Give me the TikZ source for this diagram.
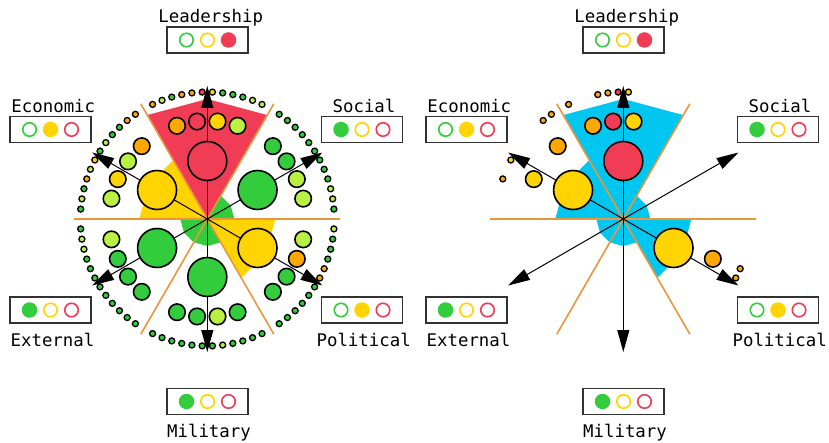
\documentclass[tikz,border=0pt]{standalone}
\usepackage{fontspec}
\setmonofont{DejaVu Sans Mono}
\usetikzlibrary{arrows.meta}
\definecolor{cgreen}{RGB}{51,204,60}
\definecolor{clime}{RGB}{185,240,65}
\definecolor{cyellow}{RGB}{255,212,0}
\definecolor{corange}{RGB}{255,168,0}
\definecolor{cred}{RGB}{240,60,85}
\definecolor{cblue}{RGB}{0,198,240}
\definecolor{cline}{RGB}{235,150,60}
\definecolor{cbox}{RGB}{50,50,50}
\tikzset{
  sep/.style={draw=cline, line width=1.6pt},
  spoke/.style={draw=black, line width=1pt},
  arrowspoke/.style={spoke, -{Triangle[length=22pt,width=12pt]}},
  bigc/.style={circle, draw=black, line width=1.6pt, minimum size=39pt, inner sep=0pt},
  smallc/.style={circle, draw=black, line width=1.6pt, minimum size=16.5pt, inner sep=0pt},
  ringdot/.style={circle, draw=black, line width=1.3pt, minimum size=6pt, inner sep=0pt},
  legbox/.style={draw=cbox, line width=1.5pt, minimum width=81pt, minimum height=26pt, inner sep=0pt},
  legon/.style={circle, minimum size=15.5pt, inner sep=0pt},
  legoff/.style={circle, draw, line width=1.6pt, fill=white, minimum size=13.5pt, inner sep=0pt},
  lbl/.style={font=\ttfamily\fontsize{17.4}{20}\selectfont, anchor=base, inner sep=0pt},
}
\newcommand{\legcirc}[4]{%
  \ifnum#4=1\relax
    \node[legon,fill=#3] (#1) at (#2) {};%
  \else
    \node[legoff,draw=#3] (#1) at (#2) {};%
  \fi}
\newcommand{\mylegend}[6]{%
  \node[legbox] (#1) at (#2,#3) {};%
  \legcirc{#1-g}{[xshift=-21pt]#1.center}{cgreen}{#4}%
  \legcirc{#1-y}{#1.center}{cyellow}{#5}%
  \legcirc{#1-r}{[xshift=21pt]#1.center}{cred}{#6}%
}
\begin{document}
\begin{tikzpicture}[x=1pt,y=1pt]
\useasboundingbox (0,0) rectangle (829,-443);
\fill[white] (0,0) rectangle (829,-443);

% ================= LEFT DIAGRAM =================
\begin{scope}[shift={(207.3,-219)}]
  \coordinate (Lc) at (0,0);
  \foreach \a/\r/\c in {90/120/cred,30/27/cgreen,-30/68/cyellow,270/27/cgreen,210/27/cgreen,150/68/cyellow}
    \fill[\c] (0,0) -- ({\a-30}:\r) -- (\a:\r) -- ({\a+30}:\r) -- cycle;
  \foreach \a in {0,60,120}{
    \coordinate (Ls\a-a) at (\a:133);
    \coordinate (Ls\a-b) at ({\a+180}:133);
    \draw[sep] (Ls\a-a) -- (Ls\a-b);}
  \foreach \a/\n in {90/lead,30/soc,-30/pol,270/mil,210/ext,150/eco}{
    \coordinate (L\n-tip) at (\a:133);
    \draw[arrowspoke] (Lc) -- (L\n-tip);}
  \foreach \a/\n/\kbig/\ka/\kb/\kc/\kd in {
      90/lead/cred/corange/cred/cyellow/clime,
      30/soc/cgreen/cgreen/cgreen/clime/clime,
      -30/pol/cyellow/clime/corange/cgreen/cgreen,
      270/mil/cgreen/cgreen/clime/cgreen/cgreen,
      210/ext/cgreen/cgreen/cgreen/cgreen/clime,
      150/eco/cyellow/clime/cyellow/clime/corange}{
    \node[bigc,fill=\kbig] (L\n-big) at (\a:58) {};
    \node[smallc,fill=\ka] (L\n-s1) at ({\a+18}:98) {};
    \node[smallc,fill=\kb] (L\n-s2) at ({\a+6}:98) {};
    \node[smallc,fill=\kc] (L\n-s3) at ({\a-6}:98) {};
    \node[smallc,fill=\kd] (L\n-s4) at ({\a-18}:98) {};
  }
  \foreach \c [count=\k from 0] in {clime,clime,cgreen,cgreen,cgreen,cyellow,cred,corange,corange,cgreen,clime,corange}
    \node[ringdot,fill=\c] (Llead-d\k) at ({90+(\k-5.5)*4.64}:127) {};
  \foreach \c [count=\k from 0] in {cgreen,clime,clime,cgreen,cgreen,cgreen,cgreen,cgreen,cgreen,cgreen,cgreen,cgreen}
    \node[ringdot,fill=\c] (Lsoc-d\k) at ({30+(\k-5.5)*4.64}:127) {};
  \foreach \c [count=\k from 0] in {cgreen,cgreen,cgreen,cgreen,cgreen,cgreen,corange,corange,cgreen,cgreen,cgreen,clime}
    \node[ringdot,fill=\c] (Lpol-d\k) at ({-30+(\k-5.5)*4.64}:127) {};
  \foreach \c [count=\k from 0] in {cgreen,cgreen,cgreen,cgreen,cgreen,cgreen,cgreen,clime,cgreen,cgreen,cgreen,cgreen}
    \node[ringdot,fill=\c] (Lmil-d\k) at ({270+(\k-5.5)*4.64}:127) {};
  \foreach \c [count=\k from 0] in {cgreen,clime,clime,cgreen,cgreen,cgreen,cgreen,cgreen,cgreen,cgreen,cgreen,cgreen}
    \node[ringdot,fill=\c] (Lext-d\k) at ({210+(\k-5.5)*4.64}:127) {};
  \foreach \c [count=\k from 0] in {corange,corange,cgreen,cgreen,clime,cgreen,cyellow,clime,corange,cgreen,clime,cgreen}
    \node[ringdot,fill=\c] (Leco-d\k) at ({150+(\k-5.5)*4.64}:127) {};
\end{scope}

% ================= RIGHT DIAGRAM =================
\begin{scope}[shift={(623.3,-219)}]
  \coordinate (Rc) at (0,0);
  \foreach \a/\r in {90/120,30/27,-30/68,270/27,210/27,150/68}
    \fill[cblue] (0,0) -- ({\a-30}:\r) -- (\a:\r) -- ({\a+30}:\r) -- cycle;
  \foreach \a in {0,60,120}{
    \coordinate (Rs\a-a) at (\a:133);
    \coordinate (Rs\a-b) at ({\a+180}:133);
    \draw[sep] (Rs\a-a) -- (Rs\a-b);}
  \foreach \a/\n in {90/lead,30/soc,-30/pol,270/mil,210/ext,150/eco}{
    \coordinate (R\n-tip) at (\a:133);
    \draw[arrowspoke] (Rc) -- (R\n-tip);}
  \node[bigc,fill=cred] (Rlead-big) at (90:58) {};
  \node[smallc,fill=corange] (Rlead-s1) at (108:98) {};
  \node[smallc,fill=cred] (Rlead-s2) at (96:98) {};
  \node[smallc,fill=cyellow] (Rlead-s3) at (84:98) {};
  \node[bigc,fill=cyellow] (Reco-big) at (150:58) {};
  \node[smallc,fill=cyellow] (Reco-s2) at (156:98) {};
  \node[smallc,fill=corange] (Reco-s4) at (132:98) {};
  \node[bigc,fill=cyellow] (Rpol-big) at (-30:58) {};
  \node[smallc,fill=corange] (Rpol-s2) at (-24:98) {};
  \foreach \k/\c in {5/cyellow,6/cred,7/corange,8/corange,11/corange}
    \node[ringdot,fill=\c] (Rlead-d\k) at ({90+(\k-5.5)*4.64}:127) {};
  \foreach \k/\c in {0/corange,1/corange,6/cyellow,8/corange}
    \node[ringdot,fill=\c] (Reco-d\k) at ({150+(\k-5.5)*4.64}:127) {};
  \foreach \k/\c in {6/corange,7/corange}
    \node[ringdot,fill=\c] (Rpol-d\k) at ({-30+(\k-5.5)*4.64}:127) {};
\end{scope}

% ================= LEGENDS =================
\foreach \p/\dx in {L/0,R/416}{
  \begin{scope}[xshift=\dx pt]
    \mylegend{\p lead-box}{207.5}{-40}{0}{0}{1}
    \mylegend{\p eco-box}{50.5}{-129.5}{0}{1}{0}
    \mylegend{\p soc-box}{362}{-129.5}{1}{0}{0}
    \mylegend{\p ext-box}{50.5}{-310}{1}{0}{0}
    \mylegend{\p pol-box}{362}{-310}{0}{1}{0}
    \mylegend{\p mil-box}{207.5}{-401.5}{1}{0}{0}
    \node[lbl] (\p lead-lbl) at (210.8,-22.7) {Leadership};
    \node[lbl] (\p eco-lbl) at (53.3,-112.7) {Economic};
    \node[lbl] (\p soc-lbl) at (364,-112.7) {Social};
    \node[lbl] (\p ext-lbl) at (52.5,-346) {External};
    \node[lbl] (\p pol-lbl) at (363.7,-346) {Political};
    \node[lbl] (\p mil-lbl) at (209,-437.3) {Military};
  \end{scope}
}
\end{tikzpicture}
\end{document}
